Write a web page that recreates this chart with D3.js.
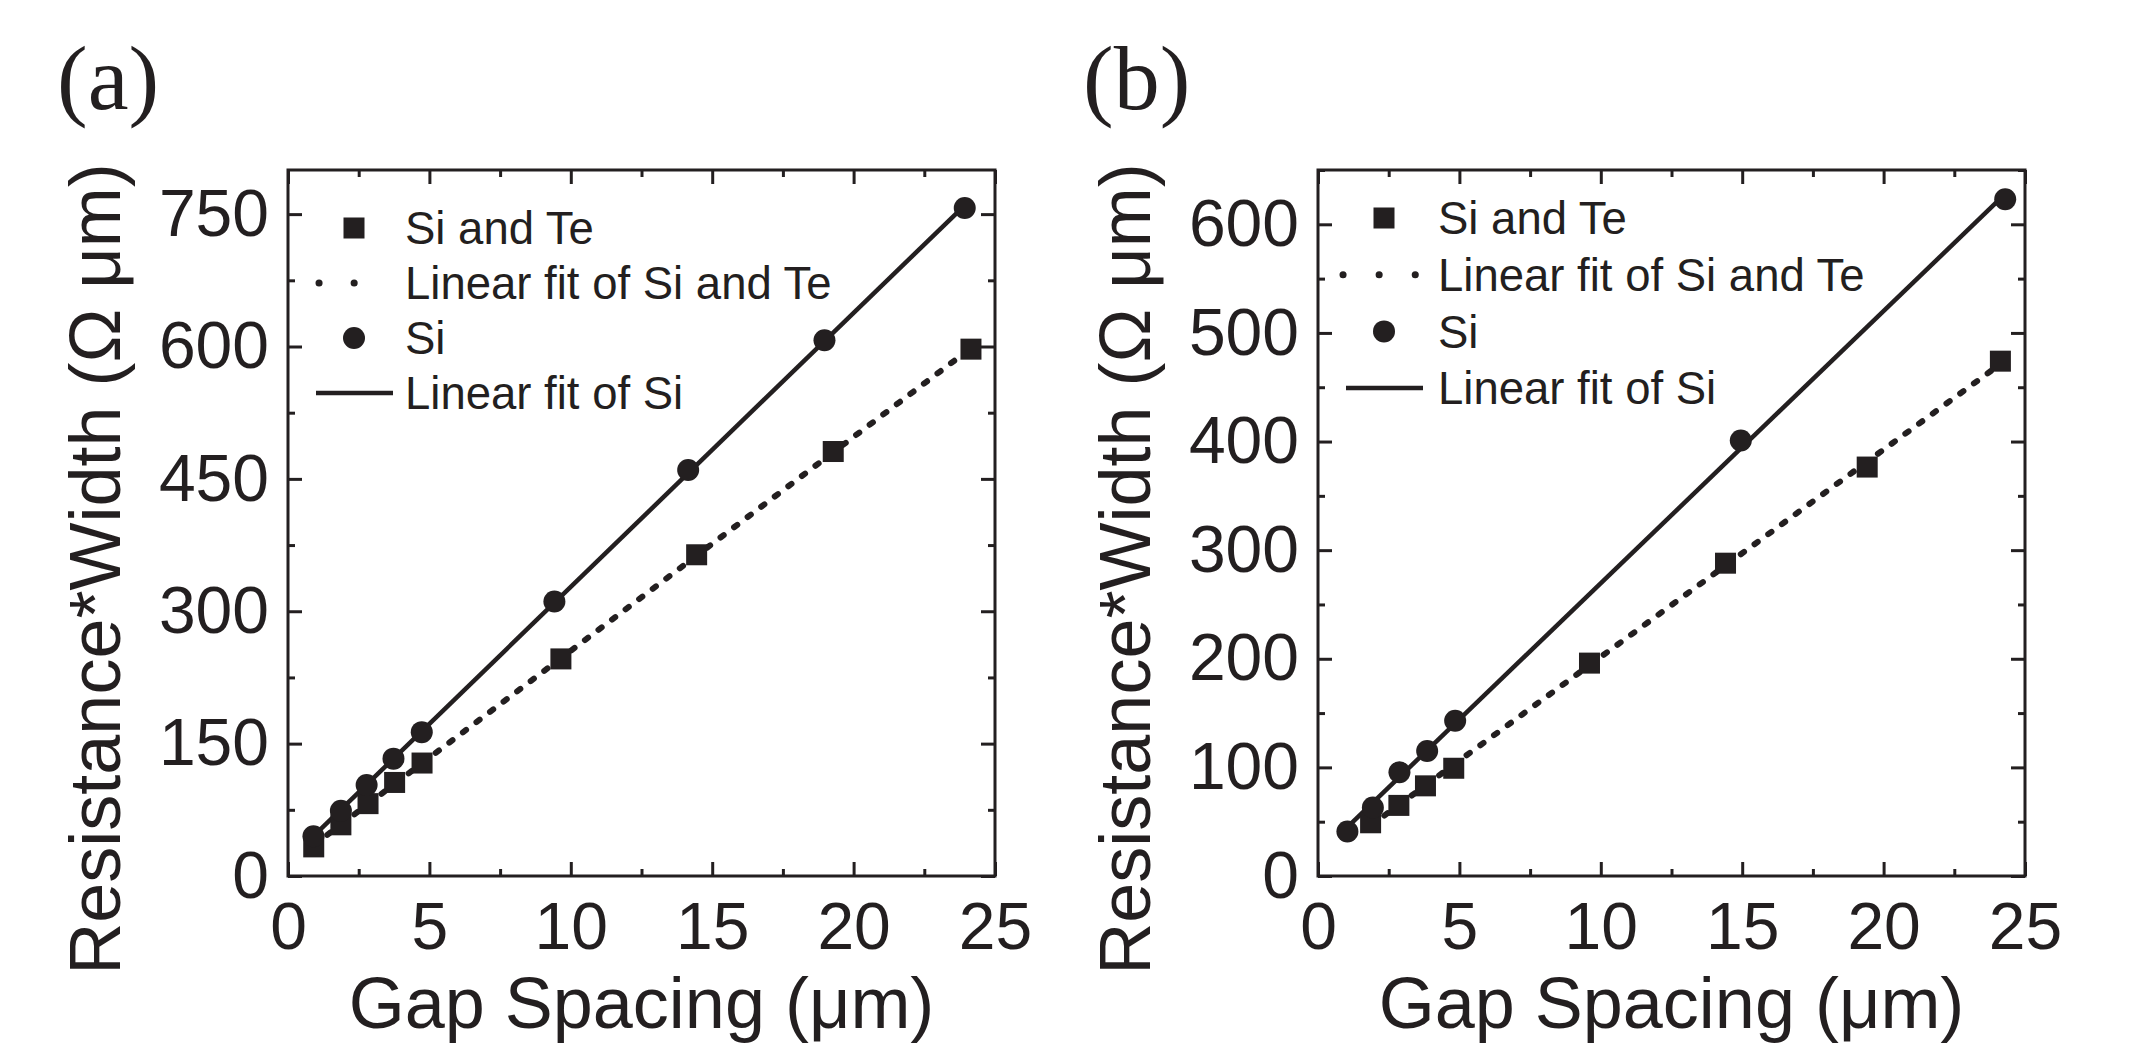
<!DOCTYPE html>
<html>
<head>
<meta charset="utf-8">
<script src="https://cdn.jsdelivr.net/npm/d3@7/dist/d3.min.js"></script>
<style>
  body { margin: 0; background: #fff; }
  text { fill: #231f20; }
</style>
</head>
<body>
<svg id="chart" width="2131" height="1049"></svg>
<script>
// ---- data ----
// panel (a)
const siA_x = [0.9, 1.87, 2.78, 3.73, 4.73, 9.42, 14.15, 18.97, 23.93];
const siA_y = [45, 74, 103, 133, 163, 311, 460, 607, 757];
const steA_x = [0.91, 1.87, 2.83, 3.77, 4.74, 9.65, 14.45, 19.28, 24.15];
const steA_y = [33, 58, 82, 106, 128, 246, 364, 481, 597];

// panel (b)
const siB_x = [1.04, 1.94, 2.88, 3.86, 4.85, 14.95, 24.3];
const siB_y = [41, 63, 95.5, 115, 143, 401, 623];
const steB_x = [1.86, 2.86, 3.8, 4.8, 9.6, 14.41, 19.42, 24.13];
const steB_y = [49, 65, 83, 99.2, 196, 288, 376.5, 474];

// ticks
const xMajor = [0, 5, 10, 15, 20, 25];
const xMinor = [2.5, 7.5, 12.5, 17.5, 22.5];
const yMajorA = [0, 150, 300, 450, 600, 750];
const yMinorA = [75, 225, 375, 525, 675];
const yMajorB = [0, 100, 200, 300, 400, 500, 600];
const yMinorB = [50, 150, 250, 350, 450, 550, 650];

const legendLabels = ["Si and Te", "Linear fit of Si and Te", "Si", "Linear fit of Si"];

const ink = "#231f20";
const sans = "'Liberation Sans', Arial, sans-serif";
const svg = d3.select("#chart");

// least squares line through a series
function fit(xs, ys) {
  const mx = d3.mean(xs), my = d3.mean(ys);
  let num = 0, den = 0;
  xs.forEach((x, i) => { num += (x - mx) * (ys[i] - my); den += (x - mx) * (x - mx); });
  const b = num / den;
  return { b: b, a: my - b * mx };
}

function panel(opt) {
  const left = opt.left, top = 170, w = 707, h = 706;
  const g = svg.append("g").attr("transform", "translate(" + left + "," + top + ")");

  const x = d3.scaleLinear().domain([0, 25]).range([0, w]);
  const y = d3.scaleLinear().domain([0, opt.yMax]).range([h, 0]);

  // minor ticks, all four sides
  g.append("g").attr("transform", "translate(0," + h + ")")
    .call(d3.axisBottom(x).tickValues(xMinor).tickSize(-7).tickFormat(""));
  g.append("g")
    .call(d3.axisTop(x).tickValues(xMinor).tickSize(-7).tickFormat(""));
  g.append("g")
    .call(d3.axisLeft(y).tickValues(opt.yMinor).tickSize(-7).tickFormat(""));
  g.append("g").attr("transform", "translate(" + w + ",0)")
    .call(d3.axisRight(y).tickValues(opt.yMinor).tickSize(-7).tickFormat(""));

  // major ticks
  g.append("g").attr("transform", "translate(0," + h + ")")
    .call(d3.axisBottom(x).tickValues(xMajor).tickSize(-14).tickPadding(26));
  g.append("g")
    .call(d3.axisTop(x).tickValues(xMajor).tickSize(-14).tickFormat(""));
  g.append("g")
    .call(d3.axisLeft(y).tickValues(opt.yMajor).tickSize(-14).tickPadding(19));
  g.append("g").attr("transform", "translate(" + w + ",0)")
    .call(d3.axisRight(y).tickValues(opt.yMajor).tickSize(-14).tickFormat(""));

  g.selectAll(".domain").remove();
  g.selectAll(".tick line").attr("stroke", ink).attr("stroke-width", 3);
  g.selectAll(".tick text").attr("font-size", 66).attr("fill", ink)
    .attr("font-family", sans);

  // frame
  g.append("rect").attr("width", w).attr("height", h)
    .attr("fill", "none").attr("stroke", ink).attr("stroke-width", 3);

  // fit lines
  const fitLine = (xs, ys) => {
    const f = fit(xs, ys);
    const x0 = d3.min(xs), x1 = d3.max(xs);
    return d3.line().x(d => x(d[0])).y(d => y(d[1]))([[x0, f.a + f.b * x0], [x1, f.a + f.b * x1]]);
  };
  g.append("path").attr("d", fitLine(opt.steX, opt.steY))
    .attr("fill", "none").attr("stroke", ink).attr("stroke-width", 6)
    .attr("stroke-linecap", "round").attr("stroke-dasharray", "4 13");
  g.append("path").attr("d", fitLine(opt.siX, opt.siY))
    .attr("fill", "none").attr("stroke", ink).attr("stroke-width", 4.5);

  // markers
  g.selectAll(".sq").data(opt.steX).enter().append("rect")
    .attr("x", (d) => x(d) - 10.5)
    .attr("y", (d, i) => y(opt.steY[i]) - 10.5)
    .attr("width", 21).attr("height", 21).attr("fill", ink);
  g.selectAll(".ci").data(opt.siX).enter().append("circle")
    .attr("cx", d => x(d))
    .attr("cy", (d, i) => y(opt.siY[i]))
    .attr("r", 11).attr("fill", ink);

  // legend
  const lg = g.append("g").attr("transform", "translate(0," + opt.legTop + ")");
  const rowGap = opt.legGap;
  const symX = 66, txtX = opt.legText;
  lg.append("rect").attr("x", symX - 10.5).attr("y", -10.5)
    .attr("width", 21).attr("height", 21).attr("fill", ink);
  lg.append("line").attr("x1", opt.dot0).attr("x2", opt.dot1)
    .attr("y1", rowGap).attr("y2", rowGap)
    .attr("stroke", ink).attr("stroke-width", 7)
    .attr("stroke-linecap", "round").attr("stroke-dasharray", opt.legDash);
  lg.append("circle").attr("cx", symX).attr("cy", rowGap * 2).attr("r", 11).attr("fill", ink);
  lg.append("line").attr("x1", 28).attr("x2", 105)
    .attr("y1", rowGap * 3).attr("y2", rowGap * 3)
    .attr("stroke", ink).attr("stroke-width", 4.5);
  lg.selectAll("text").data(legendLabels).enter().append("text")
    .attr("x", txtX).attr("y", (d, i) => i * rowGap)
    .attr("dy", "0.36em")
    .style("font-family", sans)
    .attr("font-size", 45.5)
    .text(d => d);

  // axis titles
  svg.append("text")
    .attr("x", left + w / 2).attr("y", 1028)
    .attr("text-anchor", "middle").attr("font-size", 72)
    .style("font-family", sans)
    .text("Gap Spacing (\u03bcm)");
  svg.append("text")
    .attr("transform", "translate(" + (left - 168) + ",569) rotate(-90)")
    .attr("text-anchor", "middle").attr("font-size", 72)
    .style("font-family", sans)
    .text("Resistance*Width (\u03a9 \u03bcm)");

  // panel letter
  svg.append("text")
    .attr("x", opt.letterX).attr("y", 109)
    .style("font-family", "'Liberation Serif', 'Times New Roman', serif")
    .attr("font-size", 92)
    .text(opt.letter);
}

panel({
  left: 288, yMax: 800, yMajor: yMajorA, yMinor: yMinorA,
  siX: siA_x, siY: siA_y, steX: steA_x, steY: steA_y,
  legTop: 58, legGap: 55, legText: 117, legDash: "0.1 35", dot0: 31, dot1: 70,
  letter: "(a)", letterX: 57
});
panel({
  left: 1318, yMax: 650, yMajor: yMajorB, yMinor: yMinorB,
  siX: siB_x, siY: siB_y, steX: steB_x, steY: steB_y,
  legTop: 48, legGap: 56.7, legText: 120, legDash: "0.1 36", dot0: 25, dot1: 98,
  letter: "(b)", letterX: 1083
});
</script>
</body>
</html>
